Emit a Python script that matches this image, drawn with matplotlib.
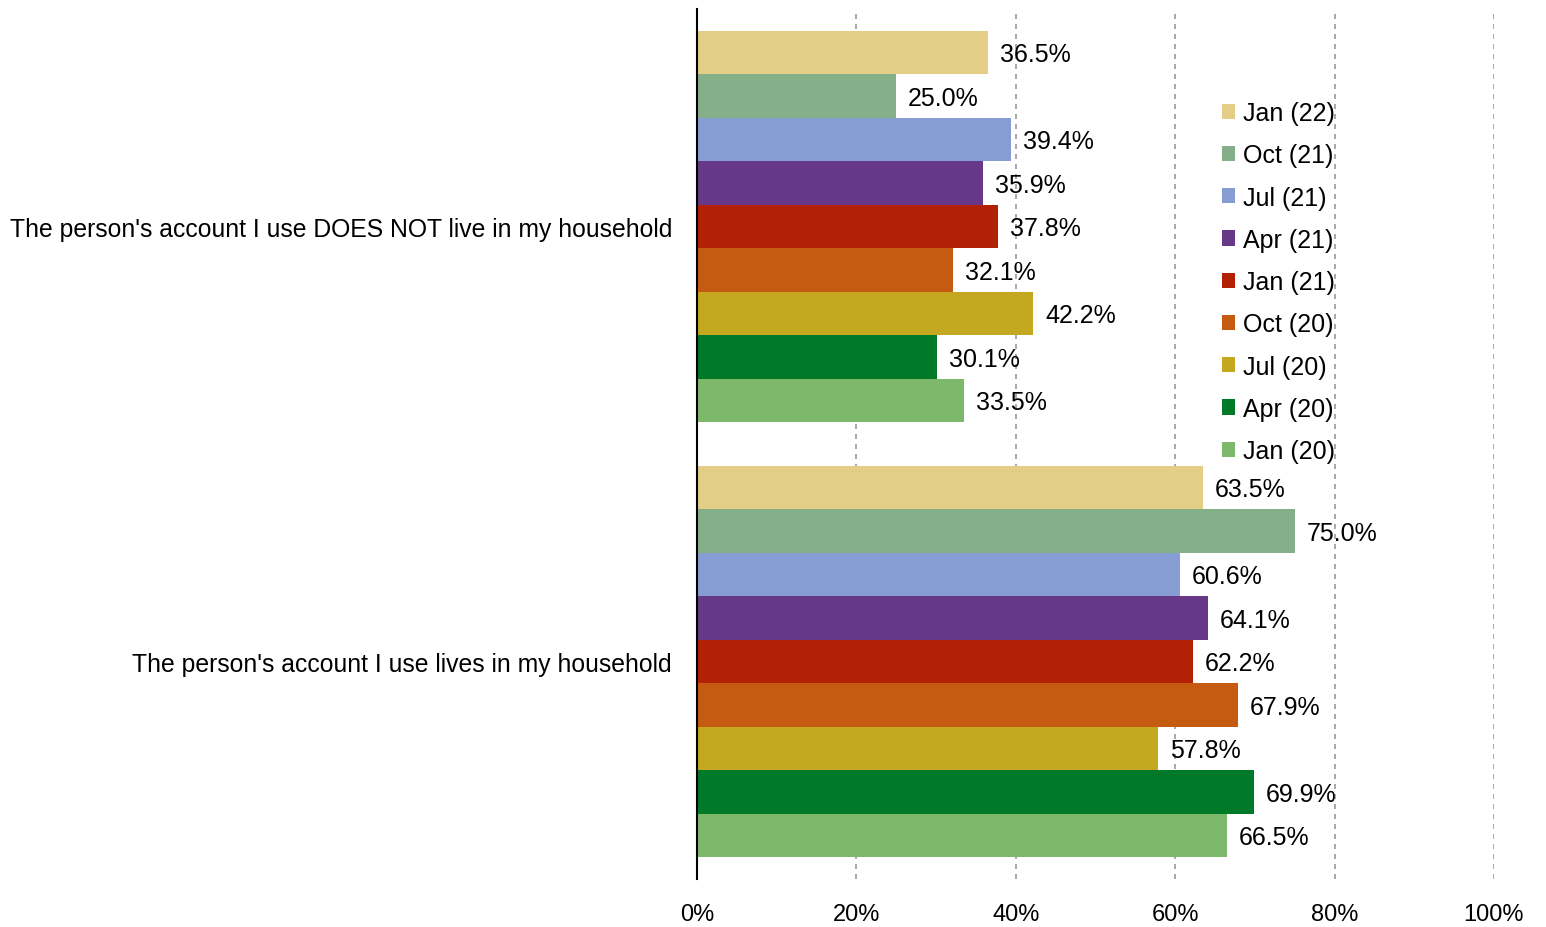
import numpy as np
import matplotlib.pyplot as plt

plt.rcParams['font.family'] = ['Liberation Sans', 'DejaVu Sans']

#data
categories = ["The person's account I use DOES NOT live in my household",
              "The person's account I use lives in my household"]
waves = ["Jan (22)", "Oct (21)", "Jul (21)", "Apr (21)", "Jan (21)",
         "Oct (20)", "Jul (20)", "Apr (20)", "Jan (20)"]
not_household = [36.5, 25.0, 39.4, 35.9, 37.8, 32.1, 42.2, 30.1, 33.5]
in_household = [63.5, 75.0, 60.6, 64.1, 62.2, 67.9, 57.8, 69.9, 66.5]
colors = ["#E4CE87", "#84AF88", "#869DD3", "#673888", "#B22105",
          "#C55A11", "#C4A820", "#007A29", "#7EB86A"]

fig = plt.figure(figsize=(15.46, 9.28), dpi=100)
ax = fig.add_axes([0.4508, 0.0517, 0.5155, 0.9375])

h = 0.1
for i, w in enumerate(waves):
    vals = [not_household[i], in_household[i]]
    ys = [j - 0.4 + i * h for j in range(len(categories))]
    ax.barh(ys, vals, height=h, color=colors[i], label=w, zorder=3)
    for y, v in zip(ys, vals):
        ax.text(v + 1.5, y + 0.004, f"{v:.1f}%", va='center', ha='left', fontsize=18, zorder=4)

ax.set_ylim(1.5, -0.5)
ax.set_xlim(0, 100)
ax.set_yticks(range(len(categories)))
ax.set_yticklabels(categories, fontsize=17.8)
ax.set_xticks(np.arange(0, 101, 20))
ax.set_xticklabels([f"{t}%" for t in range(0, 101, 20)], fontsize=17)
ax.tick_params(axis='both', length=0)
ax.tick_params(axis='x', pad=17)
ax.tick_params(axis='y', pad=18)
ax.xaxis.grid(True, linestyle=(0, (3, 3)), color='#999999', linewidth=1.2, zorder=0)
for s in ['top', 'right', 'bottom']:
    ax.spines[s].set_visible(False)
ax.spines['left'].set_linewidth(1.5)
ax.spines['left'].set_zorder(5)

leg = ax.legend(loc='upper left', bbox_to_anchor=(0.63, 0.92), frameon=False,
                fontsize=18, handlelength=0.55, handleheight=0.55, handletextpad=0.3,
                labelspacing=0.73)

fig.savefig("out.png", dpi=100)
